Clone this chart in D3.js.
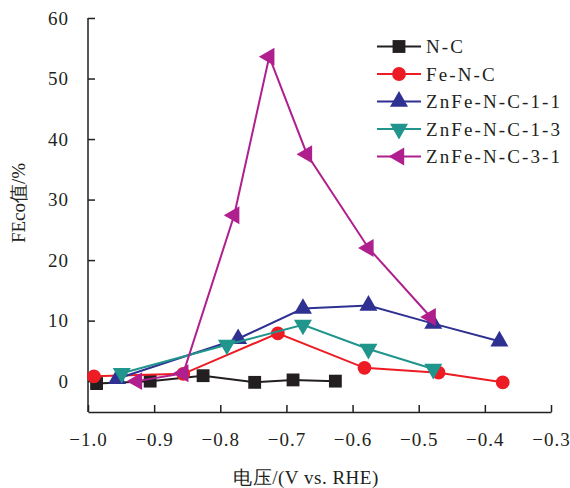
<!DOCTYPE html>
<html>
<head>
<meta charset="utf-8">
<script src="https://cdn.jsdelivr.net/npm/d3@7"></script>
<style>
  body { margin: 0; background: #fff; }
  svg text { font-family: "Liberation Serif", "DejaVu Serif", serif; fill: #231f20; }
</style>
</head>
<body>
<script>
const xTicks = [-1.0, -0.9, -0.8, -0.7, -0.6, -0.5, -0.4, -0.3];
const yTicks = [0, 10, 20, 30, 40, 50, 60];

const seriesNames = ["N-C", "Fe-N-C", "ZnFe-N-C-1-1", "ZnFe-N-C-1-3", "ZnFe-N-C-3-1"];
const seriesColors = ["#231f20", "#ed1c24", "#2e3192", "#1f958b", "#b01f8e"];

const nc_x = [-0.987, -0.906, -0.826, -0.748, -0.690, -0.626];
const nc_y = [-0.4, 0.0, 0.9, -0.2, 0.2, 0.0];
const fenc_x = [-0.991, -0.856, -0.713, -0.582, -0.470, -0.373];
const fenc_y = [0.8, 1.2, 7.9, 2.2, 1.4, -0.2];
const zn11_x = [-0.956, -0.773, -0.675, -0.576, -0.478, -0.378];
const zn11_y = [0.4, 7.0, 12.0, 12.5, 9.5, 6.6];
const zn13_x = [-0.949, -0.790, -0.675, -0.576, -0.478];
const zn13_y = [1.3, 6.0, 9.3, 5.3, 2.0];
const zn31_x = [-0.926, -0.856, -0.779, -0.726, -0.669, -0.576, -0.482];
const zn31_y = [0.0, 1.3, 27.4, 53.6, 37.5, 22.0, 10.6];

const margin = {top: 18, right: 19, bottom: 76, left: 88};
const width = 570 - margin.left - margin.right;
const height = 488 - margin.top - margin.bottom;
const serif = "'Liberation Serif', 'DejaVu Serif', serif";

const svg = d3.select("body").append("svg")
  .attr("width", 570)
  .attr("height", 488)
  .attr("font-family", serif);

const xScale = d3.scaleLinear().domain([-1.0, -0.3]).range([0, width]);
const yScale = d3.scaleLinear().domain([-5.1, 60]).range([height, 0]);

const g = svg.append("g")
  .attr("transform", `translate(${margin.left},${margin.top})`);

const fmtX = d => d3.format(".1f")(d).replace("-", "\u2212");

// axes: ticks point inward
const xAxis = d3.axisBottom(xScale).tickValues(xTicks).tickSizeInner(-7).tickSizeOuter(0)
  .tickPadding(21).tickFormat(fmtX);
const yAxis = d3.axisLeft(yScale).tickValues(yTicks).tickSizeInner(-7).tickSizeOuter(0)
  .tickPadding(19);

const gx = g.append("g").attr("transform", `translate(0,${height})`).call(xAxis);
const gy = g.append("g").call(yAxis);

[gx, gy].forEach(a => {
  a.attr("font-family", serif).attr("font-size", 19);
  a.select(".domain").attr("stroke", "#231f20").attr("stroke-width", 1.5);
  a.selectAll(".tick line").attr("stroke", "#231f20").attr("stroke-width", 1.5);
  a.selectAll(".tick text").attr("fill", "#231f20").attr("letter-spacing", 1);
});
gy.select(".domain").attr("d", `M0,${yScale(60)}V${height}`);

// axis titles
svg.append("text")
  .attr("x", 306).attr("y", 484)
  .attr("text-anchor", "middle")
  .attr("font-size", 19)
  .attr("letter-spacing", 0.5)
  .text("电压/(V vs. RHE)");

svg.append("text")
  .attr("transform", "translate(25,203) rotate(-90)")
  .attr("text-anchor", "middle")
  .attr("font-size", 19)
  .text("FEco值/%");

const seriesData = [
  d3.zip(nc_x, nc_y),
  d3.zip(fenc_x, fenc_y),
  d3.zip(zn11_x, zn11_y),
  d3.zip(zn13_x, zn13_y),
  d3.zip(zn31_x, zn31_y)
];

const symbols = [
  {type: d3.symbolSquare, size: 165, rot: 0},
  {type: d3.symbolCircle, size: 150, rot: 0},
  {type: d3.symbolTriangle, size: 140, rot: 0},
  {type: d3.symbolTriangle, size: 140, rot: 180},
  {type: d3.symbolTriangle, size: 140, rot: -90}
];

const lineGen = d3.line()
  .x(d => xScale(d[0]))
  .y(d => yScale(d[1]));

seriesData.forEach((data, i) => {
  const s = g.append("g");
  s.append("path")
    .datum(data)
    .attr("fill", "none")
    .attr("stroke", seriesColors[i])
    .attr("stroke-width", 2)
    .attr("d", lineGen);
  s.selectAll("path.mark")
    .data(data)
    .join("path")
    .attr("class", "mark")
    .attr("fill", seriesColors[i])
    .attr("transform", d => `translate(${xScale(d[0])},${yScale(d[1])}) rotate(${symbols[i].rot})`)
    .attr("d", d3.symbol(symbols[i].type, symbols[i].size));
});

// legend
const legend = svg.append("g").attr("transform", "translate(377,46.5)");
seriesNames.forEach((name, i) => {
  const row = legend.append("g").attr("transform", `translate(0,${i * 27.5})`);
  row.append("line")
    .attr("x1", 0).attr("x2", 44)
    .attr("stroke", seriesColors[i]).attr("stroke-width", 2);
  row.append("path")
    .attr("fill", seriesColors[i])
    .attr("transform", `translate(22,0) rotate(${symbols[i].rot})`)
    .attr("d", d3.symbol(symbols[i].type, symbols[i].size));
  row.append("text")
    .attr("x", 49).attr("y", 6.5)
    .attr("font-size", 19)
    .attr("letter-spacing", 2.1)
    .text(name);
});
</script>
</body>
</html>
